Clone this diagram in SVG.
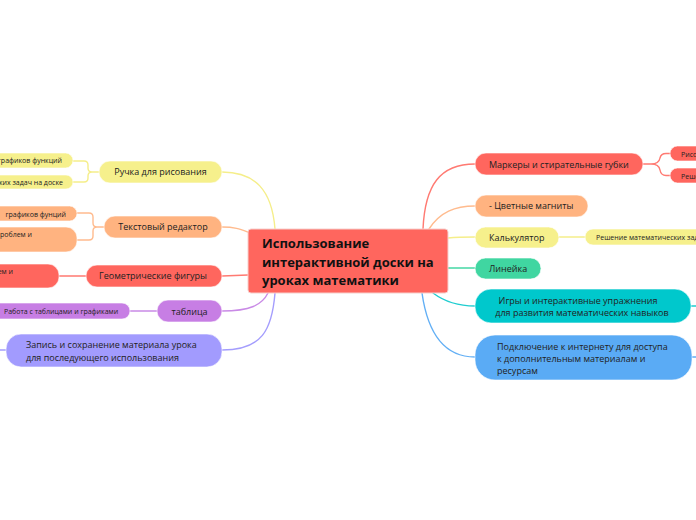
<svg xmlns="http://www.w3.org/2000/svg" width="696" height="520" viewBox="0 0 696 520">
<style>
text{font-family:"Open Sans","Noto Sans","Liberation Sans",sans-serif;fill:#222;}
.t9{font-size:9px;}
.t7{font-size:7px;}
.c{fill:none;stroke-width:1.4;stroke-linecap:round;}
.n{stroke:#ffffff;stroke-opacity:0.6;stroke-width:1;}
.red{fill:#ff665e;}.redS{stroke:#ff7a72;}
.pea{fill:#ffb380;}.peaS{stroke:#ffbb8e;}
.yel{fill:#f6f08c;}.yelS{stroke:#f5ee8a;}
.pur{fill:#c77ee4;}.purS{stroke:#c98ae6;}
.lav{fill:#a29bfe;}.lavS{stroke:#a49dfd;}
.grn{fill:#40d6a1;}.grnS{stroke:#46d8a5;}
.tea{fill:#00c8cc;}.teaS{stroke:#20cdd0;}
.blu{fill:#5aabf5;}.bluS{stroke:#62aff5;}
</style>
<rect width="696" height="520" fill="#ffffff"/>
<g id="connectors">
<path class="c yelS" d="M222,172 C255,172 272,190 275,229"/>
<path class="c peaS" d="M222,227 C235,227 240,229 248,232"/>
<path class="c redS" d="M222,276 L248,275"/>
<path class="c purS" d="M222,311 C250,311 262,305 268,293"/>
<path class="c lavS" d="M222,350 C262,350 272,330 275,293"/>
<path class="c lavS" d="M6,350 H0"/>
<path class="c redS" d="M423,229 C425,185 440,164 475,164"/>
<path class="c peaS" d="M429,229 C440,212 455,206 475,206"/>
<path class="c yelS" d="M448,238 C458,237 465,237 475,237"/>
<path class="c grnS" d="M448,268 H475"/>
<path class="c teaS" d="M433,293 C445,302 458,306 475,306"/>
<path class="c bluS" d="M422,293 C428,335 445,357 475,357"/>
<path class="c teaS" d="M691,306 H696"/>
<path class="c bluS" d="M692,357 H696"/>
<path class="c yelS" d="M99,172 H92 Q88,172 88,168 V165 Q88,161 84,161 H73 M92,172 Q88,172 88,176 V178 Q88,182 84,182 H73"/>
<path class="c peaS" d="M104,227 H97 Q93,227 93,223 V217 Q93,213 89,213 H77 M97,227 Q93,227 93,231 V236 Q93,240 89,240 H77"/>
<path class="c redS" d="M59,276 H86"/>
<path class="c purS" d="M130,311 H157"/>
<path class="c redS" d="M643,164 H651 Q659,164 660,158 Q661,153.5 666,153.5 H670 M651,164 Q659,164 660,170 Q661,175.5 666,175.5 H670"/>
<path class="c yelS" d="M559,237 H585"/>
</g>
<g id="center">
<rect x="248" y="229" width="200" height="64" rx="3" fill="#ff665e" stroke="#f6cfcc" stroke-width="1"/>
<text x="262" y="248" style="font-size:13px;font-weight:bold;fill:#111">Использование</text>
<text x="262" y="266.5" style="font-size:13px;font-weight:bold;fill:#111">интерактивной доски на</text>
<text x="262" y="285" style="font-size:13px;font-weight:bold;fill:#111">уроках математики</text>
</g>
<g id="pen">
<rect class="n yel" x="99" y="161" width="123" height="22" rx="11"/>
<text class="t9" x="160.5" y="175" text-anchor="middle">Ручка для рисования</text>
</g>
<g id="pen-c1">
<rect class="n yel" x="-60" y="153" width="133" height="15" rx="7.5"/>
<text class="t7" x="62" y="163" text-anchor="end">Рисование графиков функций</text>
</g>
<g id="pen-c2">
<rect class="n yel" x="-100" y="175" width="173" height="14" rx="7"/>
<text class="t7" x="63" y="184.5" text-anchor="end">Решение математических задач на доске</text>
</g>
<g id="texteditor">
<rect class="n pea" x="104" y="216" width="118" height="22" rx="11"/>
<text class="t9" x="163" y="230" text-anchor="middle">Текстовый редактор</text>
</g>
<g id="te-c1">
<rect class="n pea" x="-60" y="206" width="137" height="15" rx="7.5"/>
<text class="t7" x="66" y="216.5" text-anchor="end">графиков фунций</text>
</g>
<g id="te-c2">
<rect class="n pea" x="-100" y="227" width="177" height="25" rx="11"/>
<text class="t7" x="32" y="237" text-anchor="end">Решение проблем и</text>
</g>
<g id="geometry">
<rect class="n red" x="86" y="265" width="136" height="22" rx="11"/>
<text class="t9" x="153" y="279" text-anchor="middle">Геометрические фигуры</text>
</g>
<g id="geo-c1">
<rect class="n red" x="-100" y="264" width="159" height="24" rx="11"/>
<text class="t7" x="13" y="273.5" text-anchor="end">Решение задач и проблем и</text>
</g>
<g id="table">
<rect class="n pur" x="157" y="300" width="65" height="22" rx="11"/>
<text class="t9" x="189.5" y="315" text-anchor="middle">таблица</text>
</g>
<g id="table-c1">
<rect class="n pur" x="-8" y="303" width="138" height="16" rx="8"/>
<text class="t7" x="4" y="313.5">Работа с таблицами и графиками</text>
</g>
<g id="record">
<rect class="n lav" x="6" y="334" width="216" height="33" rx="15"/>
<text class="t9" x="26" y="348">Запись и сохранение материала урока</text>
<text class="t9" x="26" y="361">для последующего использования</text>
</g>
<g id="markers">
<rect class="n red" x="475" y="153" width="168" height="22" rx="11"/>
<text class="t9" x="489" y="168">Маркеры и стирательные губки</text>
</g>
<g id="mk-c1">
<rect class="n red" x="670" y="146" width="80" height="15" rx="7.5"/>
<text class="t7" x="681" y="156.5">Рисование</text>
</g>
<g id="mk-c2">
<rect class="n red" x="670" y="168" width="80" height="15" rx="7.5"/>
<text class="t7" x="681" y="178.5">Решение</text>
</g>
<g id="magnets">
<rect class="n pea" x="475" y="195" width="113" height="22" rx="11"/>
<text class="t9" x="489" y="209">- Цветные магниты</text>
</g>
<g id="calc">
<rect class="n yel" x="475" y="227" width="84" height="21" rx="10.5"/>
<text class="t9" x="489" y="241">Калькулятор</text>
</g>
<g id="calc-c1">
<rect class="n yel" x="585" y="229" width="160" height="16" rx="8"/>
<text class="t7" x="596" y="239.5">Решение математических задач</text>
</g>
<g id="ruler">
<rect class="n grn" x="475" y="258" width="66" height="21" rx="10.5"/>
<text class="t9" x="489" y="272">Линейка</text>
</g>
<g id="games">
<rect class="n tea" x="475" y="289" width="216" height="34" rx="16"/>
<text class="t9" x="578" y="304" text-anchor="middle">Игры и интерактивные упражнения</text>
<text class="t9" x="582" y="316" text-anchor="middle">для развития математических навыков</text>
</g>
<g id="internet">
<rect class="n blu" x="475" y="335" width="217" height="45" rx="20"/>
<text class="t9" x="497" y="350">Подключение к интернету для доступа</text>
<text class="t9" x="497" y="362">к дополнительным материалам и</text>
<text class="t9" x="497" y="374">ресурсам</text>
</g>
</svg>
